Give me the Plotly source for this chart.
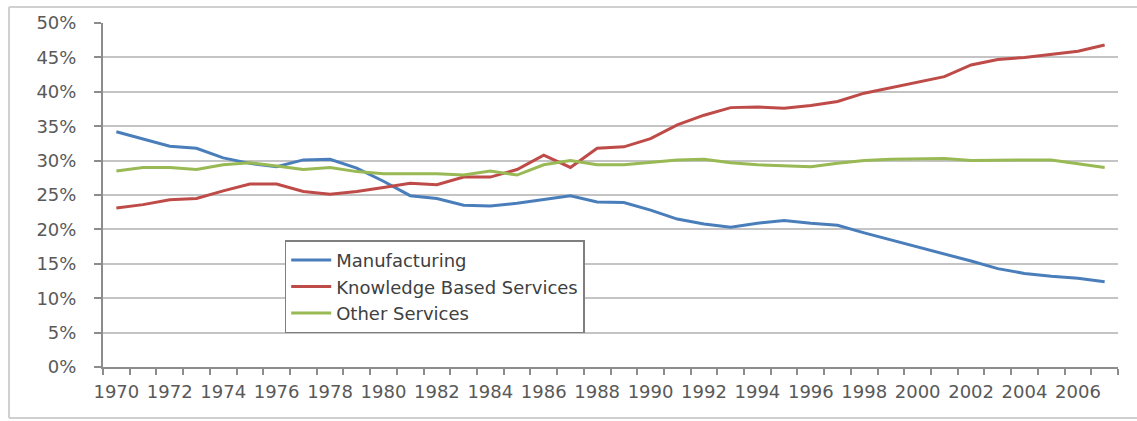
import plotly.graph_objects as go

years = list(range(1970, 2008))

manufacturing = [34.2, 33.2, 32.1, 31.8, 30.4, 29.6, 29.1, 30.1, 30.2, 28.9,
                 27.0, 24.9, 24.5, 23.5, 23.4, 23.8, 24.3, 24.9, 24.0, 23.9,
                 22.8, 21.5, 20.8, 20.3, 20.9, 21.3, 20.9, 20.6, 19.5, 18.5,
                 17.4, 16.5, 15.4, 14.3, 13.6, 13.2, 12.9, 12.4]

knowledge = [23.1, 23.6, 24.3, 24.5, 25.6, 26.6, 26.6, 25.5, 25.1, 25.5,
             26.1, 26.7, 26.5, 27.6, 27.6, 28.7, 30.8, 29.0, 31.8, 32.0,
             33.2, 35.2, 36.6, 37.7, 37.8, 37.6, 38.0, 38.6, 39.8, 40.6,
             41.4, 42.2, 43.9, 44.7, 45.0, 45.4, 45.9, 46.8]

other = [28.5, 29.0, 29.0, 28.7, 29.4, 29.7, 29.2, 28.7, 29.0, 28.4,
         28.1, 28.1, 28.1, 27.9, 28.5, 27.9, 29.4, 30.0, 29.4, 29.4,
         29.8, 30.1, 30.2, 29.7, 29.4, 29.2, 29.1, 29.6, 30.0, 30.2,
         30.2, 30.3, 30.0, 30.1, 30.1, 30.1, 29.5, 29.0]

series_names = ["Manufacturing", "Knowledge Based Services", "Other Services"]
series_colors = ["#4A7EBB", "#BE4B48", "#98B954"]

fig = go.Figure()
for name, vals, col in zip(series_names, [manufacturing, knowledge, other], series_colors):
    fig.add_trace(go.Scatter(x=years, y=vals, mode="lines", name=name,
                             line=dict(color=col, width=3)))

txt = "#595959"
axis_col = "#8C8C8C"
frame = dict(color="#D0D0D0", width=2)

fig.update_layout(
    width=1137, height=421,
    margin=dict(l=103, r=19, t=23, b=54),
    paper_bgcolor="white", plot_bgcolor="white",
    font=dict(family="DejaVu Sans", color=txt, size=18),
    showlegend=True,
    legend=dict(x=0.179, y=0.368, xanchor="left", yanchor="top",
                bgcolor="white", bordercolor="#7F7F7F", borderwidth=1.5,
                font=dict(family="DejaVu Sans", size=18, color="#404040"),
                itemwidth=40, tracegroupgap=0),
    xaxis=dict(range=[1969.5, 2007.5], tickmode="linear", tick0=1970, dtick=2,
               ticks="", showgrid=False, zeroline=False,
               showline=True, linecolor=axis_col, linewidth=2,
               tickfont=dict(family="DejaVu Sans", size=18, color=txt),
               ticklabelstandoff=7,
               minor=dict(tick0=1969.5, dtick=1, ticks="outside", ticklen=6,
                          tickcolor=axis_col, tickwidth=1.5, showgrid=False)),
    yaxis=dict(range=[0, 50], tickmode="linear", tick0=0, dtick=5, ticksuffix="%",
               showgrid=True, gridcolor="#C4C4C4", gridwidth=1.5, zeroline=False,
               showline=True, linecolor=axis_col, linewidth=2,
               ticks="outside", ticklen=7, tickcolor=axis_col, tickwidth=1.5,
               tickfont=dict(family="DejaVu Sans", size=18, color=txt),
               ticklabelstandoff=14),
    shapes=[
        dict(type="line", xref="paper", yref="paper", x0=-0.0926, x1=-0.0926,
             y0=-0.148, y1=1.0465, line=frame, layer="below"),
        dict(type="line", xref="paper", yref="paper", x0=-0.0926, x1=1.02,
             y0=1.0465, y1=1.0465, line=frame, layer="below"),
        dict(type="line", xref="paper", yref="paper", x0=-0.0926, x1=1.02,
             y0=-0.148, y1=-0.148, line=frame, layer="below"),
    ],
)

fig.write_html("out.html")
